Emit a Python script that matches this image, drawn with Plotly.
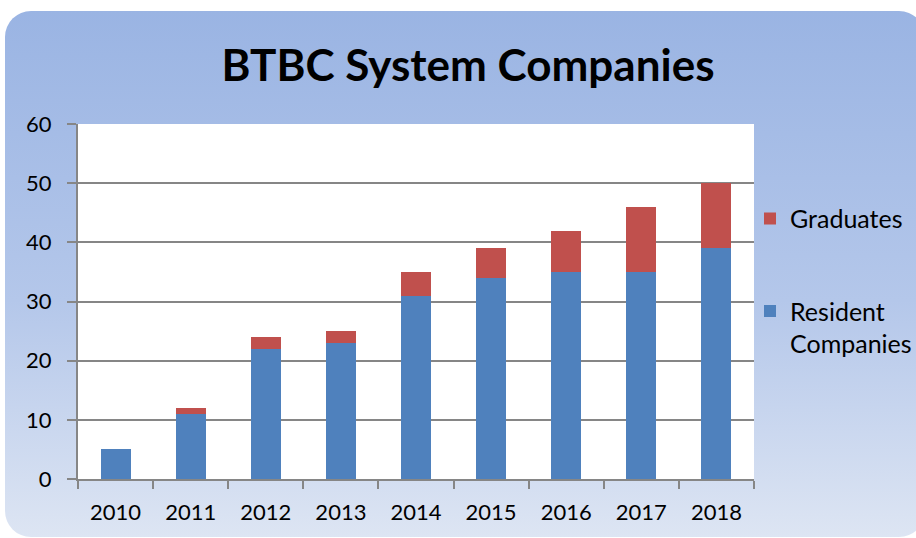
import base64
import plotly.graph_objects as go

years = ["2010", "2011", "2012", "2013", "2014", "2015", "2016", "2017", "2018"]
resident = [5, 11, 22, 23, 31, 34, 35, 35, 39]
graduates = [0, 1, 2, 2, 4, 5, 7, 11, 11]

W, H = 916, 538
L, R, T, B = 78, 162, 124, 59
pw, ph = W - L - R, H - T - B

svg = f'''<svg xmlns="http://www.w3.org/2000/svg" width="{W}" height="{H}" viewBox="0 0 {W} {H}" preserveAspectRatio="none">
<defs><linearGradient id="g" x1="0" y1="0" x2="0" y2="1">
<stop offset="0" stop-color="#9AB4E3"/>
<stop offset="0.55" stop-color="#B4C7EA"/>
<stop offset="1" stop-color="#DDE5F3"/>
</linearGradient></defs>
<rect x="5" y="11" width="920" height="526" rx="26" ry="26" fill="url(#g)"/>
</svg>'''
src = "data:image/svg+xml;base64," + base64.b64encode(svg.encode()).decode()

FONT = "Lato"
GRID = "#868686"

fig = go.Figure()
fig.add_trace(go.Bar(x=years, y=resident, name="Resident<br>Companies",
                     marker=dict(color="#4F81BD", line=dict(width=0)),
                     legendgroup="r", legendrank=2))
fig.add_trace(go.Bar(x=years, y=graduates, name="Graduates",
                     marker=dict(color="#C0504D", line=dict(width=0)),
                     legendgroup="g", legendrank=1))

fig.update_layout(
    width=W, height=H, autosize=False,
    margin=dict(l=L, r=R, t=T, b=B, pad=0, autoexpand=False),
    barmode="stack", bargap=0.6,
    paper_bgcolor="white", plot_bgcolor="white",
    font=dict(family=FONT, size=22, color="black"),
    title=dict(text="<b>BTBC System Companies</b>", x=468 / W, xanchor="center",
               y=1 - 66 / H, yanchor="middle", font=dict(family=FONT, size=44, color="black")),
    legend=dict(x=(750 - L) / pw, xanchor="left", y=0.798, yanchor="top", traceorder="grouped",
                tracegroupgap=57, valign="top", bgcolor="rgba(0,0,0,0)",
                font=dict(family=FONT, size=25, color="black"), itemwidth=30),
    xaxis=dict(type="category", showline=True, linecolor=GRID, linewidth=2,
               ticks="outside", tickson="boundaries", ticklen=8, tickwidth=2, tickcolor=GRID,
               showgrid=False, ticklabelstandoff=13),
    yaxis=dict(range=[0, 60], dtick=10, showline=True, linecolor=GRID, linewidth=2,
               ticks="outside", ticklen=9, tickwidth=2, tickcolor=GRID,
               showgrid=True, gridcolor=GRID, gridwidth=2, zeroline=False,
               ticklabelstandoff=11),
    images=[dict(source=src, xref="paper", yref="paper", x=-L / pw, y=1 + T / ph,
                 sizex=W / pw, sizey=H / ph, xanchor="left", yanchor="top",
                 sizing="stretch", layer="below")],
    shapes=[dict(type="rect", xref="paper", yref="paper", x0=0, x1=1, y0=0, y1=1,
                 fillcolor="white", line=dict(width=0), layer="below")],
)

fig.write_html("out.html",
               config={"displayModeBar": False, "responsive": False},
               post_script="document.body.style.margin='0';document.body.style.overflow='hidden';")
